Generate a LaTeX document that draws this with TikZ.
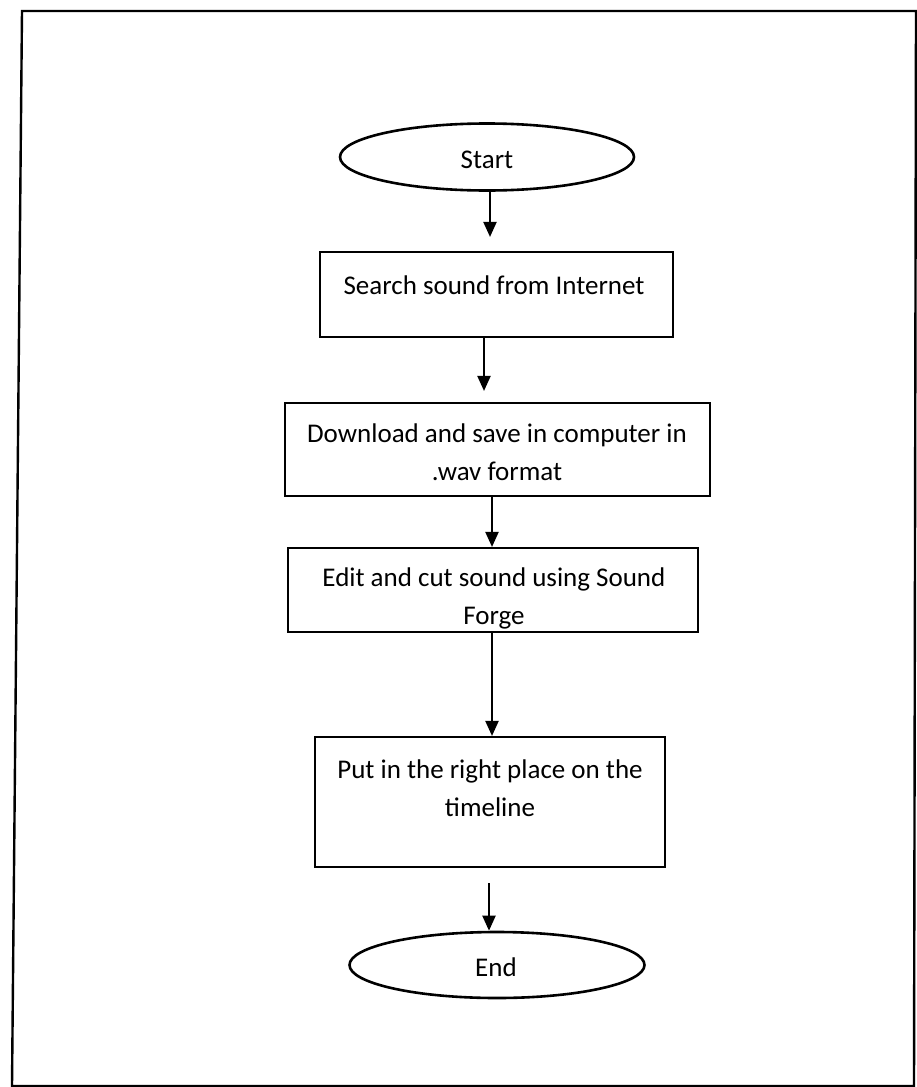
\documentclass[tikz,border=0pt]{standalone}
\usepackage{fontspec}
\setmainfont{Carlito}
\usetikzlibrary{shapes.geometric,arrows.meta,calc}
\tikzset{
  stepbox/.style={draw, line width=2.1pt, rectangle, inner sep=0pt},
  terminal/.style={draw, line width=2.6pt, ellipse, inner sep=0pt},
  label text/.style={inner sep=0pt, align=center, font=\fontsize{27}{38}\selectfont},
  arr/.style={line width=2pt, -{Triangle[width=13pt,length=15pt]}},
  frame/.style={line width=2.4pt}
}
\begin{document}
\begin{tikzpicture}[x=1pt,y=-1pt]
\useasboundingbox (0,0) rectangle (916,1087);
% outer frame
\draw[frame] (22,11) -- (916,11) -- (914,1086) -- (12,1086) -- cycle;

% terminals
\node[terminal, minimum width=294pt, minimum height=67pt] (start) at (487,157) {};
\node[label text] (starttxt) at (487,160) {Start};
\node[terminal, minimum width=295pt, minimum height=66pt] (end) at (497,965) {};
\node[label text] (endtxt) at (496,967) {End};

% process steps
\node[stepbox, minimum width=353pt, minimum height=85pt] (s1) at (496.5,294.5) {};
\node[label text] (s1txt) at (494,285) {Search sound from Internet};

\node[stepbox, minimum width=425pt, minimum height=93pt] (s2) at (497.5,449.5) {};
\node[label text] (s2txt) at (497,452) {Download and save in computer in\\.wav format};

\node[stepbox, minimum width=410pt, minimum height=84pt] (s3) at (493,590) {};
\node[label text] (s3txt) at (494,598) {Edit and cut sound using Sound\\Forge};

\node[stepbox, minimum width=350pt, minimum height=130pt] (s4) at (490,802) {};
\node[label text] (s4txt) at (490,788) {Put in the right place on the\\timeline};

% connectors
\draw[arr, shorten >=14pt] ($(start.south)+(3,0)$) coordinate (a1) -- (a1 |- s1.north);
\draw[arr, shorten >=11pt] ($(s1.south)+(-12.5,0)$) coordinate (a2) -- (a2 |- s2.north);
\draw[arr] ($(s2.south)+(-5.5,0)$) coordinate (a3) -- (a3 |- s3.north);
\draw[arr] ($(s3.south)+(-1,0)$) coordinate (a4) -- (a4 |- s4.north);
\draw[arr, shorten <=15pt] ($(s4.south)+(-1,0)$) coordinate (a5) -- (a5 |- end.north);
\end{tikzpicture}
\end{document}
